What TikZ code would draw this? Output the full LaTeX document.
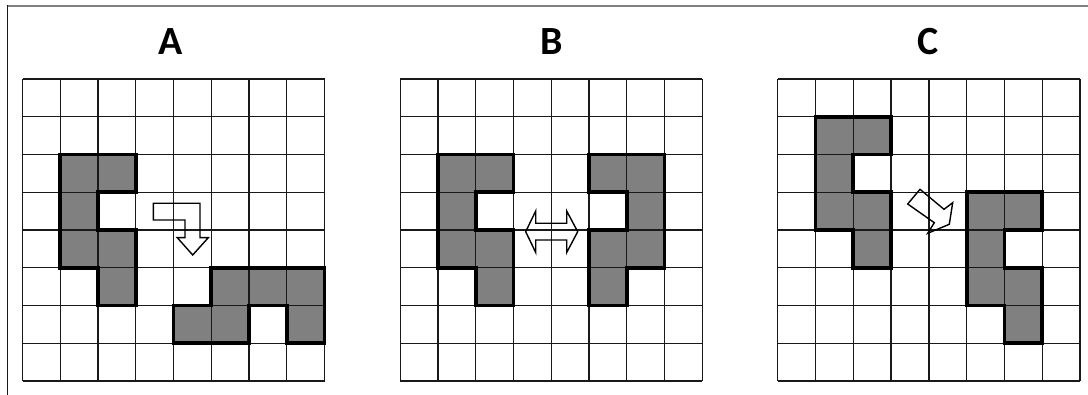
\documentclass[tikz,border=0pt]{standalone}
\usepackage{fontspec}
\setmainfont{Carlito}
\begin{document}
\begin{tikzpicture}[x=1pt,y=-1pt,
  gridline/.style={line width=1.3pt,draw=black!90},
  piece/.style={line width=3.8pt,draw=black,line join=miter},
  piecefill/.style={fill=black!50},
  hollowarrow/.style={line width=1.4pt,draw=black,line join=miter},
  label/.style={font=\fontsize{40}{42}\selectfont\bfseries,inner sep=0pt}]
\useasboundingbox (0,0) rectangle (1088,395);
% frame
\draw[line width=2pt,draw=black!50] (7,5.7) -- (1088,5.7);
\draw[line width=1.5pt,draw=black!90] (7.3,5) -- (7.3,395);
% labels
\node[label] (labA) at (171,42) {A};
\node[label] (labB) at (551.7,42) {B};
\node[label] (labC) at (928.5,42) {C};
% ---------- Grid A ----------
\begin{scope}[shift={(22.5pt,-79pt)},x=37.75pt,y=-37.75pt]
  \fill[piecefill] (1,2)--(3,2)--(3,3)--(2,3)--(2,4)--(3,4)--(3,6)--(2,6)--(2,5)--(1,5)--cycle;
  \fill[piecefill] (5,5)--(8,5)--(8,7)--(7,7)--(7,6)--(6,6)--(6,7)--(4,7)--(4,6)--(5,6)--cycle;
  \foreach \i in {0,...,8} {\draw[gridline] (\i,0) -- (\i,8); \draw[gridline] (0,\i) -- (8,\i);}
  \draw[piece] (1,2)--(3,2)--(3,3)--(2,3)--(2,4)--(3,4)--(3,6)--(2,6)--(2,5)--(1,5)--cycle;
  \draw[piece] (5,5)--(8,5)--(8,7)--(7,7)--(7,6)--(6,6)--(6,7)--(4,7)--(4,6)--(5,6)--cycle;
\end{scope}
\draw[hollowarrow] (153.3,203.3)--(200,203.3)--(200,237.7)--(208.3,237.7)--(192.7,255)--(177.3,237.7)--(185,237.7)--(185,220)--(153.3,220)--cycle;
% ---------- Grid B ----------
\begin{scope}[shift={(400.3pt,-79pt)},x=37.75pt,y=-37.75pt]
  \fill[piecefill] (1,2)--(3,2)--(3,3)--(2,3)--(2,4)--(3,4)--(3,6)--(2,6)--(2,5)--(1,5)--cycle;
  \fill[piecefill] (5,2)--(7,2)--(7,5)--(6,5)--(6,6)--(5,6)--(5,4)--(6,4)--(6,3)--(5,3)--cycle;
  \foreach \i in {0,...,8} {\draw[gridline] (\i,0) -- (\i,8); \draw[gridline] (0,\i) -- (8,\i);}
  \draw[piece] (1,2)--(3,2)--(3,3)--(2,3)--(2,4)--(3,4)--(3,6)--(2,6)--(2,5)--(1,5)--cycle;
  \draw[piece] (5,2)--(7,2)--(7,5)--(6,5)--(6,6)--(5,6)--(5,4)--(6,4)--(6,3)--(5,3)--cycle;
\end{scope}
\draw[hollowarrow] (525.7,231.7)--(535.7,211)--(535.7,223.3)--(566.7,223.3)--(566.7,211)--(577.7,231.7)--(566.7,252.5)--(566.7,240)--(535.7,240)--(535.7,252.5)--cycle;
% ---------- Grid C ----------
\begin{scope}[shift={(777.7pt,-79pt)},x=37.8pt,y=-37.75pt]
  \fill[piecefill] (1,1)--(3,1)--(3,2)--(2,2)--(2,3)--(3,3)--(3,5)--(2,5)--(2,4)--(1,4)--cycle;
  \fill[piecefill] (5,3)--(7,3)--(7,4)--(6,4)--(6,5)--(7,5)--(7,7)--(6,7)--(6,6)--(5,6)--cycle;
  \foreach \i in {0,...,8} {\draw[gridline] (\i,0) -- (\i,8); \draw[gridline] (0,\i) -- (8,\i);}
  \draw[piece] (1,1)--(3,1)--(3,2)--(2,2)--(2,3)--(3,3)--(3,5)--(2,5)--(2,4)--(1,4)--cycle;
  \draw[piece] (5,3)--(7,3)--(7,4)--(6,4)--(6,5)--(7,5)--(7,7)--(6,7)--(6,6)--(5,6)--cycle;
\end{scope}
\draw[hollowarrow] (907.7,204)--(920,189.3)--(944,209.3)--(952.7,202.7)--(949.3,224.3)--(927.7,233.3)--(934.3,222.7)--cycle;
\end{tikzpicture}
\end{document}
